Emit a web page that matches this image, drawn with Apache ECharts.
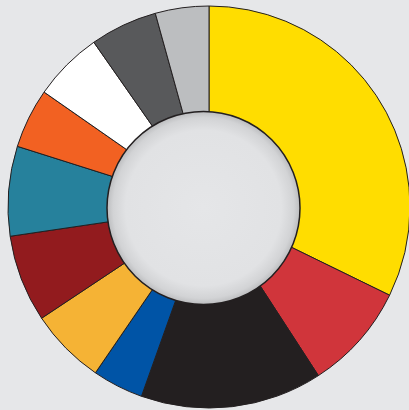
<!DOCTYPE html>
<html>
<head>
<meta charset="utf-8">
<script src="https://cdn.jsdelivr.net/npm/echarts@6/dist/echarts.min.js"></script>
<style>
  html, body { margin: 0; padding: 0; background: #e6e7e9; }
  #main { width: 409px; height: 410px; }
</style>
</head>
<body>
<div id="main"></div>
<script>
// slices, clockwise from 12 o'clock (share in %)
var categories = ['Yellow', 'Red', 'Black', 'Blue', 'Gold', 'Maroon', 'Teal', 'Orange', 'White', 'Dark Grey', 'Light Grey'];
var values = [32.2, 8.6, 14.6, 4.1, 6.1, 7.0, 7.2, 4.8, 5.6, 5.4, 4.3];
var colors = ['#ffdd00', '#d0353b', '#231f20', '#0054a6', '#f5b335', '#921b1e', '#26819c', '#f26122', '#ffffff', '#58595b', '#bcbec0'];

var myChart = echarts.init(document.getElementById('main'));

var data = categories.map(function (name, i) {
    return { name: name, value: values[i], itemStyle: { color: colors[i] } };
});

var option = {
    backgroundColor: '#e6e7e9',
    animation: false,
    series: [
        {
            name: 'Share',
            type: 'pie',
            center: [209, 207],
            radius: [80, 201],
            startAngle: 90,
            clockwise: true,
            silent: true,
            label: { show: false },
            labelLine: { show: false },
            itemStyle: {
                borderColor: '#231f20',
                borderWidth: 1
            },
            data: data
        }
    ],
    graphic: [
        {
            type: 'circle',
            shape: { cx: 203.5, cy: 208, r: 96.5 },
            style: {
                fill: new echarts.graphic.RadialGradient(0.5, 0.5, 0.5, [
                    { offset: 0, color: '#e5e6e8' },
                    { offset: 0.8, color: '#e1e2e4' },
                    { offset: 0.93, color: '#d2d3d5' },
                    { offset: 1, color: '#b9babc' }
                ]),
                stroke: '#231f20',
                lineWidth: 1.5
            },
            z: 100
        }
    ]
};
myChart.setOption(option);
</script>
</body>
</html>
